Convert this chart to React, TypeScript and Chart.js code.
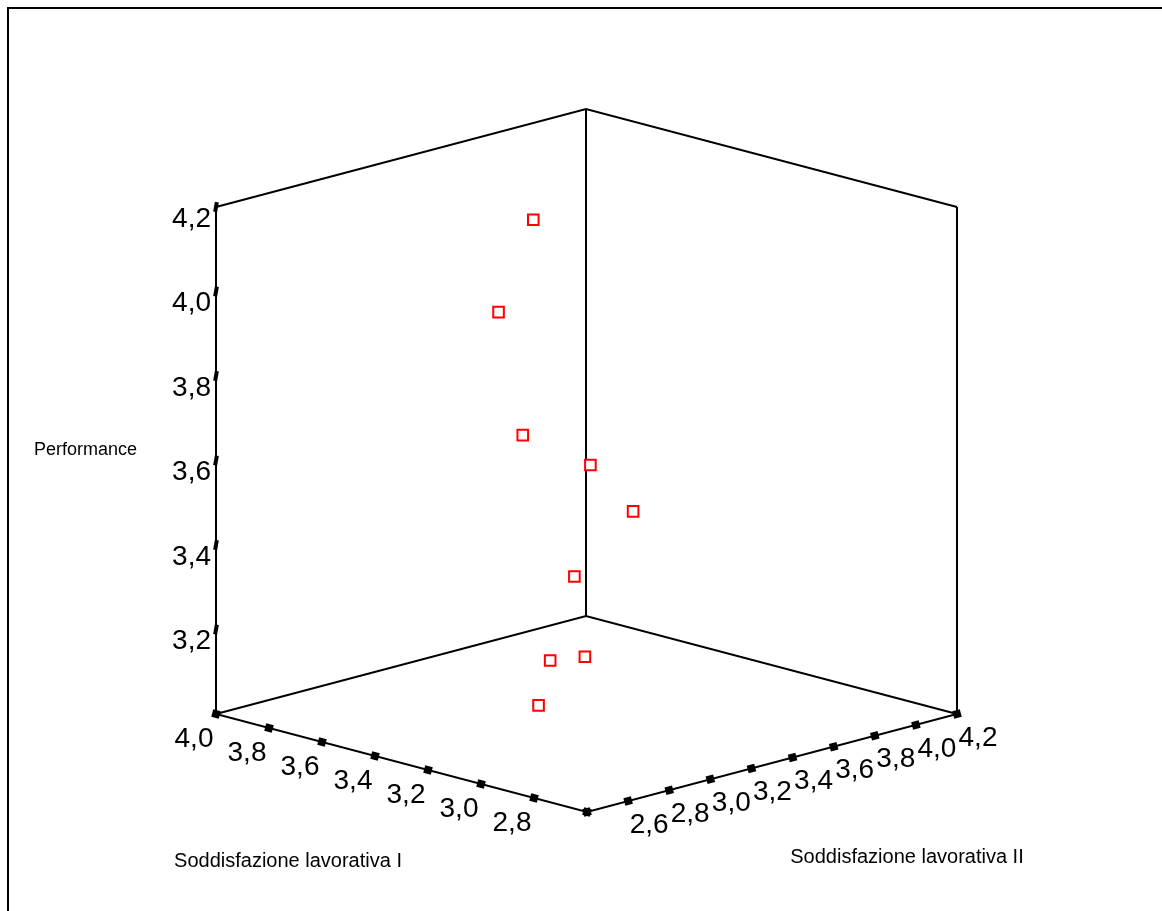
import React, { useEffect, useRef } from 'react';
import { Chart, registerables } from 'chart.js';

Chart.register(...registerables);

// ---- data (3D scatter: Soddisfazione I, Soddisfazione II, Performance) ----
const satisfactionI = [3.4, 3.5, 3.3, 3.2, 3.0, 3.4, 3.6, 3.5, 3.0];
const satisfactionII = [3.17, 3.13, 2.99, 3.19, 3.14, 3.37, 3.51, 3.55, 2.68];
const performance = [4.17, 3.94, 3.7, 3.62, 3.55, 3.3, 3.05, 3.07, 3.15];

const satIRange = [2.6, 4.0];
const satIIRange = [2.4, 4.2];
const perfRange = [3.0, 4.2];

const satITicks = [2.6, 2.8, 3.0, 3.2, 3.4, 3.6, 3.8, 4.0];
const satITickLabels = ['', '2,8', '3,0', '3,2', '3,4', '3,6', '3,8', '4,0'];
const satIITicks = [2.4, 2.6, 2.8, 3.0, 3.2, 3.4, 3.6, 3.8, 4.0, 4.2];
const satIITickLabels = ['', '2,6', '2,8', '3,0', '3,2', '3,4', '3,6', '3,8', '4,0', '4,2'];
const perfTicks = [3.2, 3.4, 3.6, 3.8, 4.0, 4.2];
const perfTickLabels = ['3,2', '3,4', '3,6', '3,8', '4,0', '4,2'];

const titleI = 'Soddisfazione lavorativa I';
const titleII = 'Soddisfazione lavorativa II';
const titleP = 'Performance';

// ---- projection geometry (screen units of the hidden linear scales) ----
const W = 1155;
const H = 904;
const ORIGIN = { x: 580, y: 805 };
const AX_I = { x: -371, y: -98 };
const AX_II = { x: 370, y: -98 };
const AX_P = { x: 0, y: -507 };

function norm(v: number, r: number[]) {
  return (v - r[0]) / (r[1] - r[0]);
}
function project(i: number, ii: number, p: number) {
  const a = norm(i, satIRange);
  const b = norm(ii, satIIRange);
  const c = norm(p, perfRange);
  return {
    x: ORIGIN.x + a * AX_I.x + b * AX_II.x + c * AX_P.x,
    y: ORIGIN.y + a * AX_I.y + b * AX_II.y + c * AX_P.y,
  };
}

const FONT = '"Liberation Sans", Arial, sans-serif';

export default function App() {
  const ref = useRef<HTMLCanvasElement | null>(null);

  useEffect(() => {
    document.body.style.overflow = 'hidden';
    const canvas = ref.current;
    if (!canvas) return;

    const [i0, i1] = satIRange;
    const [j0, j1] = satIIRange;
    const [p0, p1] = perfRange;

    const Lb = project(i1, j0, p0);
    const Lt = project(i1, j0, p1);
    const F = project(i0, j0, p0);
    const Rb = project(i0, j1, p0);
    const Rt = project(i0, j1, p1);
    const Bb = project(i1, j1, p0);
    const Bt = project(i1, j1, p1);

    const edge = (pts: { x: number; y: number }[]) => ({
      type: 'scatter' as const,
      data: pts,
      showLine: true,
      borderColor: '#000',
      borderWidth: 2,
      pointRadius: 0,
      borderCapStyle: 'butt' as const,
      borderJoinStyle: 'miter' as const,
      order: 5,
    });

    const angI = (Math.atan2(AX_I.y, AX_I.x) * 180) / Math.PI + 180;
    const angII = (Math.atan2(AX_II.y, AX_II.x) * 180) / Math.PI;

    const datasets: any[] = [
      edge([Lt, Lb, F, Rb, Rt]),
      edge([Lb, Bb, Rb]),
      edge([Bb, Bt]),
      edge([Lt, Bt, Rt]),
      {
        type: 'scatter',
        data: satITicks.map((v) => project(v, j0, p0)),
        pointStyle: 'rect',
        pointRadius: 5.5,
        pointRotation: angI,
        backgroundColor: '#000',
        borderColor: '#000',
        borderWidth: 0,
        order: 3,
      },
      {
        type: 'scatter',
        data: satIITicks.map((v) => project(i0, v, p0)),
        pointStyle: 'rect',
        pointRadius: 5.5,
        pointRotation: angII,
        backgroundColor: '#000',
        borderColor: '#000',
        borderWidth: 0,
        order: 3,
      },
      {
        type: 'scatter',
        data: perfTicks.map((v) => project(i1, j0, v)),
        pointStyle: 'line',
        pointRadius: 5,
        pointRotation: 100,
        borderColor: '#000',
        borderWidth: 4,
        order: 3,
      },
      {
        type: 'scatter',
        data: performance.map((p, k) => project(satisfactionI[k], satisfactionII[k], p)),
        pointStyle: 'rect',
        pointRadius: 7.5,
        backgroundColor: '#fff',
        borderColor: '#ff0000',
        borderWidth: 2,
        order: 1,
      },
    ];

    const labelsPlugin = {
      id: 'labels3d',
      beforeDraw(chart: any) {
        const ctx = chart.ctx;
        ctx.save();
        ctx.fillStyle = '#fff';
        ctx.fillRect(0, 0, chart.width, chart.height);
        ctx.strokeStyle = '#000';
        ctx.lineWidth = 2;
        ctx.beginPath();
        ctx.moveTo(1, chart.height + 5);
        ctx.lineTo(1, 1);
        ctx.lineTo(chart.width + 5, 1);
        ctx.stroke();
        ctx.restore();
      },
      afterDatasetsDraw(chart: any) {
        const ctx = chart.ctx;
        const xs = chart.scales.x;
        const ys = chart.scales.y;
        const px = (p: { x: number; y: number }) => ({
          x: xs.getPixelForValue(p.x),
          y: ys.getPixelForValue(p.y),
        });
        ctx.save();
        ctx.fillStyle = '#000';
        ctx.textBaseline = 'middle';
        ctx.font = `28px ${FONT}`;
        ctx.textAlign = 'right';
        perfTicks.forEach((v, k) => {
          const q = px(project(i1, j0, v));
          ctx.fillText(perfTickLabels[k], q.x - 5, q.y + 12);
        });
        ctx.textAlign = 'center';
        satITicks.forEach((v, k) => {
          const q = px(project(v, j0, p0));
          if (satITickLabels[k]) ctx.fillText(satITickLabels[k], q.x - 22, q.y + 25);
        });
        satIITicks.forEach((v, k) => {
          const q = px(project(i0, v, p0));
          if (satIITickLabels[k]) ctx.fillText(satIITickLabels[k], q.x + 21, q.y + 24);
        });
        ctx.font = `18px ${FONT}`;
        ctx.textAlign = 'left';
        ctx.fillText(titleP, 27, 443);
        ctx.font = `20px ${FONT}`;
        ctx.textAlign = 'center';
        ctx.fillText(titleI, 281, 854);
        ctx.fillText(titleII, 900, 850);
        ctx.restore();
      },
    };

    const chart = new Chart(canvas, {
      type: 'scatter',
      data: { datasets },
      options: {
        animation: false,
        responsive: false,
        maintainAspectRatio: false,
        events: [],
        layout: { padding: 0, autoPadding: false },
        plugins: { legend: { display: false }, tooltip: { enabled: false } },
        scales: {
          x: { type: 'linear', min: 0, max: W, display: false },
          y: { type: 'linear', min: 0, max: H, reverse: true, display: false },
        },
      },
      plugins: [labelsPlugin],
    });
    return () => chart.destroy();
  }, []);

  return (
    <div style={{ position: 'fixed', left: 7, top: 7, width: W, height: H }}>
      <canvas ref={ref} width={W} height={H} style={{ display: 'block', width: W, height: H }} />
    </div>
  );
}
